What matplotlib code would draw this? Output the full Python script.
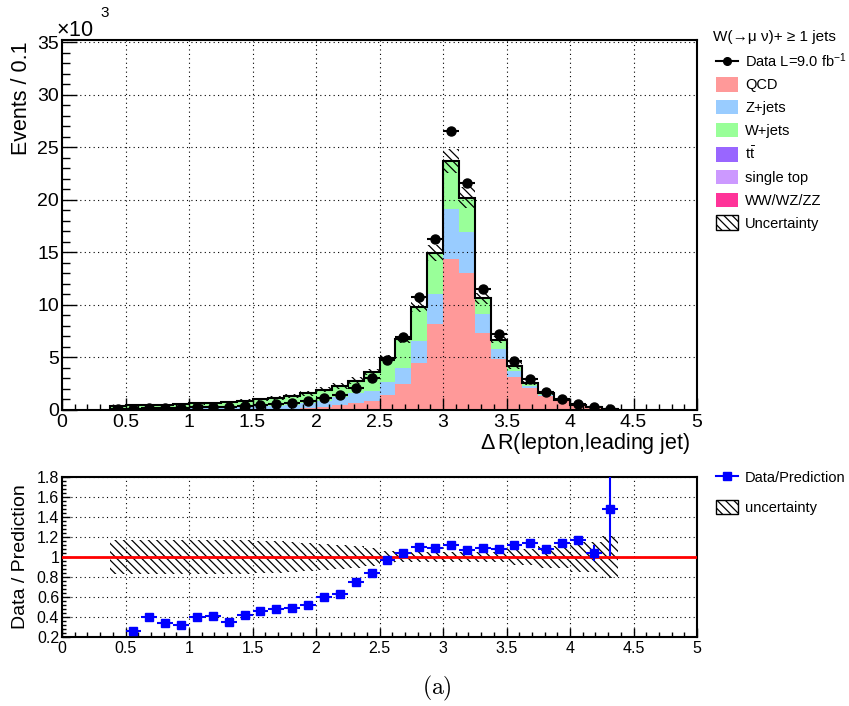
import numpy as np
import matplotlib
matplotlib.use("Agg")
import matplotlib.pyplot as plt
from matplotlib.patches import Patch
from matplotlib.lines import Line2D
from matplotlib.ticker import MultipleLocator

plt.rcParams["font.family"] = ["Liberation Sans", "DejaVu Sans"]
plt.rcParams["mathtext.fontset"] = "custom"
plt.rcParams["mathtext.rm"] = "Liberation Sans"
plt.rcParams["mathtext.it"] = "Liberation Sans:italic"
plt.rcParams["hatch.linewidth"] = 0.9

# Binning of Delta R(lepton, leading jet)
bin_lo = 0.375
bin_width = 0.125

# Event yields per bin, in units of 10^3 events
qcd = [0.03, 0.03, 0.04, 0.04, 0.05, 0.05, 0.06, 0.06, 0.07, 0.08, 0.10, 0.12,
       0.20, 0.30, 0.46, 0.62, 0.80, 1.41, 2.46, 4.43, 8.14, 14.33, 13.00, 7.35,
       4.80, 3.15, 2.05, 1.34, 0.83, 0.42, 0.20, 0.07]
zjets = [0.10, 0.10, 0.11, 0.12, 0.13, 0.15, 0.16, 0.18, 0.20, 0.24, 0.28, 0.34,
         0.42, 0.50, 0.79, 1.00, 1.00, 1.24, 1.54, 2.12, 2.89, 4.79, 3.96, 1.77,
         0.96, 0.50, 0.20, 0.10, 0.04, 0.02, 0.01, 0.005]
wjets = [0.26, 0.28, 0.27, 0.31, 0.35, 0.39, 0.43, 0.49, 0.56, 0.65, 0.75, 0.85,
         0.92, 1.09, 1.04, 1.14, 1.78, 2.23, 2.69, 3.18, 3.89, 4.52, 3.20, 1.48,
         0.88, 0.52, 0.32, 0.155, 0.055, 0.018, 0.009, 0.004]
ttbar = [0.006, 0.006, 0.006, 0.006, 0.006, 0.006, 0.006, 0.006, 0.006, 0.007, 0.007, 0.008,
         0.008, 0.009, 0.009, 0.010, 0.012, 0.013, 0.015, 0.018, 0.022, 0.030, 0.025, 0.012,
         0.007, 0.006, 0.004, 0.003, 0.002, 0.001, 0.0005, 0.0005]
single_top = [0.002, 0.002, 0.002, 0.002, 0.002, 0.002, 0.002, 0.002, 0.002, 0.002, 0.003, 0.003,
              0.003, 0.003, 0.003, 0.004, 0.005, 0.005, 0.006, 0.007, 0.008, 0.010, 0.009, 0.005,
              0.003, 0.002, 0.002, 0.001, 0.001, 0.0005, 0.0002, 0.0002]
diboson = [0.002, 0.002, 0.002, 0.002, 0.002, 0.002, 0.002, 0.002, 0.002, 0.002, 0.002, 0.002,
           0.002, 0.002, 0.002, 0.003, 0.003, 0.003, 0.004, 0.005, 0.006, 0.008, 0.007, 0.004,
           0.002, 0.002, 0.001, 0.001, 0.0005, 0.0003, 0.0002, 0.0001]
data = [0.05, 0.11, 0.17, 0.16, 0.17, 0.24, 0.27, 0.26, 0.35, 0.45, 0.55, 0.65,
        0.81, 1.14, 1.45, 2.08, 3.02, 4.74, 6.93, 10.74, 16.30, 26.50, 21.55, 11.50,
        7.18, 4.67, 2.92, 1.73, 1.06, 0.537, 0.227, 0.118]

# Relative uncertainty on the total prediction per bin
rel_unc = [0.17, 0.17, 0.17, 0.17, 0.17, 0.17, 0.17, 0.17, 0.17, 0.16, 0.16, 0.15,
           0.14, 0.13, 0.12, 0.11, 0.09, 0.06, 0.05, 0.05, 0.05, 0.05, 0.05, 0.05,
           0.05, 0.08, 0.08, 0.11, 0.11, 0.15, 0.15, 0.21]
# Uncertainty on data / prediction
ratio_err = [0.01, 0.01, 0.01, 0.01, 0.01, 0.01, 0.01, 0.01, 0.01, 0.01, 0.01, 0.01,
             0.01, 0.01, 0.01, 0.01, 0.01, 0.01, 0.01, 0.01, 0.01, 0.01, 0.01, 0.01,
             0.01, 0.01, 0.01, 0.01, 0.015, 0.04, 0.08, 0.47]

components = [
    ("QCD", qcd, "#ff9999"),
    ("Z+jets", zjets, "#99ccff"),
    ("W+jets", wjets, "#99ff99"),
    (r"$\mathrm{t\bar{t}}$", ttbar, "#9966ff"),
    ("single top", single_top, "#cc99ff"),
    ("WW/WZ/ZZ", diboson, "#ff3399"),
]

nb = len(data)
edges = bin_lo + bin_width * np.arange(nb + 1)
centers = 0.5 * (edges[:-1] + edges[1:])
data_a = np.array(data)
total = np.sum([np.array(c[1]) for c in components], axis=0)
rel = np.array(rel_unc)

W, H = 849, 706
fig = plt.figure(figsize=(W / 100, H / 100), dpi=100)

def fx(px):
    return px / W

def fy(py):
    return 1 - py / H

ax = fig.add_axes([fx(62), fy(409.8), fx(697) - fx(62), fy(39.5) - fy(409.8)])
ax2 = fig.add_axes([fx(62), fy(636.7), fx(697) - fx(62), fy(476.7) - fy(636.7)])

xt = np.arange(0, 5.01, 0.5)
xtl = ["0", "0.5", "1", "1.5", "2", "2.5", "3", "3.5", "4", "4.5", "5"]

# ---------- stacked prediction ----------
base = np.zeros(nb)
for label, vals, color in components:
    top = base + np.array(vals)
    ax.stairs(top, edges, baseline=base, fill=True, color=color, lw=0, zorder=2)
    base = top
ax.stairs(total, edges, baseline=0, color="black", lw=1.5, zorder=3)
ax.stairs(total * (1 + rel), edges, baseline=total * (1 - rel), fill=True,
          facecolor="none", edgecolor="black", hatch="\\\\\\\\", lw=0, zorder=4)

ax.errorbar(centers, data_a, xerr=bin_width / 2, yerr=np.sqrt(data_a * 1000) / 1000,
            fmt="o", color="black", ms=6.5, lw=1.5, capsize=0, zorder=5)

ax.set_xlim(0, 5)
ax.set_ylim(0, 35.25)
ax.set_xticks(xt)
ax.set_xticklabels(xtl)
ax.xaxis.set_minor_locator(MultipleLocator(0.1))
ax.set_yticks(np.arange(0, 35.1, 5))
ax.set_yticklabels([str(v) for v in range(0, 36, 5)])
ax.yaxis.set_minor_locator(MultipleLocator(1))
ax.tick_params(axis="both", which="both", direction="in", top=False, right=False,
               labelsize=14, width=1.0)
ax.tick_params(axis="x", which="major", length=8.6, pad=3)
ax.tick_params(axis="x", which="minor", length=4.5)
ax.tick_params(axis="y", which="major", length=10.8, pad=2)
ax.tick_params(axis="y", which="minor", length=5.4)
ax.grid(True, which="major", color="black", linestyle=(0, (1, 3)), lw=0.8)
ax.set_axisbelow(False)
for s in ax.spines.values():
    s.set_linewidth(1.5)
ax.set_ylabel("Events / 0.1", fontsize=15.5, ha="right")
ax.yaxis.set_label_coords(-0.048, 0.995)
ax.set_xlabel(r"$\Delta\,$R(lepton,leading jet)", fontsize=15.5, ha="right")
ax.xaxis.set_label_coords(0.989, -0.058)

fig.text(fx(56), fy(31), r"$\times$10", fontsize=15.5, ha="left", va="center")
fig.text(fx(100), fy(13), "3", fontsize=11, ha="left", va="center")

# legend for the main pad
fig.text(fx(713), fy(37), "W(\u2192\u03bc \u03bd)+ \u2265 1 jets", fontsize=11,
         ha="left", va="center")
handles = [Line2D([], [], color="black", marker="o", ms=5.5, lw=1.5)]
labels = [r"Data L=9.0 fb$^{-1}$"]
for label, vals, color in components:
    handles.append(Patch(facecolor=color, edgecolor="none"))
    labels.append(label)
handles.append(Patch(facecolor="white", edgecolor="black", hatch="\\\\\\\\", lw=1.0))
labels.append("Uncertainty")
fig.legend(handles, labels, loc="upper left", bbox_to_anchor=(fx(716), fy(51)),
           frameon=False, fontsize=10.5, handlelength=1.5, handleheight=1.15,
           handletextpad=0.5, labelspacing=0.52, borderpad=0, borderaxespad=0)

# ---------- ratio pad ----------
ratio = data_a / total
ax2.stairs(1 + rel, edges, baseline=1 - rel, fill=True, facecolor="none",
           edgecolor="black", hatch="\\\\\\\\", lw=0, zorder=2)
ax2.axhline(1.0, color="red", lw=2, zorder=3)
ax2.errorbar(centers, ratio, xerr=bin_width / 2, yerr=ratio_err, fmt="s",
             color="blue", ms=6, lw=1.5, capsize=0, zorder=4)
ax2.set_xlim(0, 5)
ax2.set_ylim(0.2, 1.8)
ax2.set_xticks(xt)
ax2.set_xticklabels(xtl)
ax2.xaxis.set_minor_locator(MultipleLocator(0.1))
ax2.set_yticks(np.arange(0.2, 1.81, 0.2))
ax2.set_yticklabels(["0.2", "0.4", "0.6", "0.8", "1", "1.2", "1.4", "1.6", "1.8"])
ax2.yaxis.set_minor_locator(MultipleLocator(0.04))
ax2.tick_params(axis="both", which="both", direction="in", top=False, right=False,
                labelsize=11.5, width=1.0)
ax2.tick_params(axis="x", which="major", length=6.5, pad=3)
ax2.tick_params(axis="x", which="minor", length=3.5)
ax2.tick_params(axis="y", which="major", length=5.5, pad=2)
ax2.tick_params(axis="y", which="minor", length=3)
ax2.grid(True, which="major", color="black", linestyle=(0, (1, 3)), lw=0.8)
for s in ax2.spines.values():
    s.set_linewidth(1.5)
ax2.set_ylabel("Data / Prediction", fontsize=14)
ax2.yaxis.set_label_coords(-0.052, 0.5)

h2 = [Line2D([], [], color="blue", marker="s", ms=5.5, lw=1.5),
      Patch(facecolor="white", edgecolor="black", hatch="\\\\\\\\", lw=1.0)]
fig.legend(h2, ["Data/Prediction", "uncertainty"], loc="upper left",
           bbox_to_anchor=(fx(716), fy(470)), frameon=False, fontsize=10.5,
           handlelength=1.5, handleheight=1.15, handletextpad=0.5,
           labelspacing=1.0, borderpad=0, borderaxespad=0)

fig.text(fx(437), fy(688), r"$\mathrm{(a)}$", fontsize=17, ha="center", va="center",
         math_fontfamily="cm")

fig.savefig("out.png", dpi=100)
